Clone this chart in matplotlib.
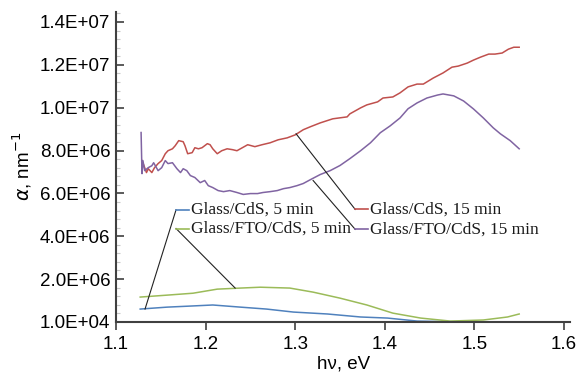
import matplotlib
matplotlib.use("Agg")
import matplotlib.pyplot as plt
from matplotlib.ticker import MultipleLocator

# ---------------- data ----------------
red_x = [1.129, 1.130, 1.134, 1.136, 1.140, 1.143, 1.147, 1.151, 1.155, 1.158, 1.163, 1.166,
         1.170, 1.175, 1.177, 1.180, 1.185, 1.188, 1.192, 1.196, 1.202, 1.205, 1.208, 1.213,
         1.218, 1.224, 1.230, 1.235, 1.241, 1.247, 1.255, 1.263, 1.272, 1.281, 1.291, 1.300,
         1.309, 1.317, 1.328, 1.342, 1.358, 1.361, 1.373, 1.380, 1.392, 1.398, 1.409, 1.417,
         1.426, 1.436, 1.443, 1.454, 1.465, 1.475, 1.482, 1.492, 1.499, 1.507, 1.516, 1.523,
         1.531, 1.538, 1.544, 1.550]
red_y = [7.53, 7.43, 6.97, 7.15, 6.97, 7.20, 7.39, 7.53, 7.85, 7.99, 8.08, 8.22,
         8.46, 8.41, 8.22, 7.85, 7.90, 8.13, 8.08, 8.13, 8.32, 8.27, 8.08, 7.85,
         7.99, 8.08, 8.04, 7.99, 8.13, 8.27, 8.18, 8.27, 8.36, 8.50, 8.59, 8.73,
         8.97, 9.11, 9.29, 9.48, 9.57, 9.71, 9.99, 10.13, 10.27, 10.45, 10.50, 10.69,
         10.97, 11.10, 11.10, 11.38, 11.62, 11.89, 11.94, 12.08, 12.22, 12.36, 12.50, 12.50,
         12.55, 12.73, 12.82, 12.82]

purple_x = [1.128, 1.129, 1.130, 1.132, 1.136, 1.140, 1.142, 1.147, 1.151, 1.155, 1.158, 1.163,
            1.168, 1.172, 1.175, 1.179, 1.183, 1.188, 1.194, 1.199, 1.203, 1.208, 1.214, 1.220,
            1.227, 1.235, 1.242, 1.250, 1.258, 1.264, 1.272, 1.280, 1.287, 1.294, 1.302, 1.309,
            1.317, 1.328, 1.339, 1.350, 1.361, 1.373, 1.384, 1.395, 1.406, 1.417, 1.426, 1.436,
            1.447, 1.459, 1.465, 1.477, 1.488, 1.499, 1.510, 1.521, 1.529, 1.540, 1.550]
purple_y = [8.84, 6.92, 7.53, 7.06, 7.20, 7.29, 7.43, 7.06, 7.20, 7.53, 7.39, 7.43,
            7.15, 6.97, 7.15, 7.06, 6.83, 6.74, 6.50, 6.60, 6.36, 6.27, 6.13, 6.08,
            6.13, 6.04, 5.95, 5.99, 5.99, 6.04, 6.08, 6.13, 6.22, 6.27, 6.36, 6.46,
            6.64, 6.88, 7.06, 7.30, 7.62, 7.99, 8.36, 8.83, 9.15, 9.52, 9.95, 10.22,
            10.45, 10.59, 10.64, 10.55, 10.31, 9.94, 9.52, 9.06, 8.78, 8.46, 8.08]

green_x = [1.127, 1.157, 1.186, 1.213, 1.239, 1.261, 1.294, 1.320, 1.350, 1.380, 1.409,
           1.440, 1.473, 1.510, 1.537, 1.550]
green_y = [1.16, 1.25, 1.34, 1.53, 1.58, 1.62, 1.58, 1.39, 1.11, 0.79, 0.41,
           0.18, 0.04, 0.09, 0.23, 0.37]

blue_x = [1.127, 1.157, 1.183, 1.208, 1.239, 1.268, 1.298, 1.336, 1.373, 1.403, 1.436,
          1.473, 1.500]
blue_y = [0.60, 0.69, 0.74, 0.79, 0.69, 0.60, 0.46, 0.37, 0.23, 0.18, 0.04,
          0.01, 0.01]

labels = ["Glass/CdS, 5 min", "Glass/FTO/CdS, 5 min",
          "Glass/CdS, 15 min", "Glass/FTO/CdS, 15 min"]
colors = ["#4F81BD", "#9BBB59", "#C0504D", "#8064A2"]
# label anchor on curve and label start (x, y in 1e6 units)
anchors = [(1.1324, 0.60), (1.233, 1.58), (1.301, 8.78), (1.320, 6.60)]
label_pos = [(1.167, 5.23), (1.167, 4.36), (1.367, 5.25), (1.367, 4.32)]

yticks = [1e4, 2e6, 4e6, 6e6, 8e6, 1e7, 1.2e7, 1.4e7]
ytick_labels = ["1.0E+04", "2.0E+06", "4.0E+06", "6.0E+06", "8.0E+06",
                "1.0E+07", "1.2E+07", "1.4E+07"]
xticks = [1.1, 1.2, 1.3, 1.4, 1.5, 1.6]
xtick_labels = ["1.1", "1.2", "1.3", "1.4", "1.5", "1.6"]

# ---------------- plot ----------------
plt.rcParams['font.family'] = ['Liberation Sans', 'DejaVu Sans']
fig = plt.figure(figsize=(5.76, 3.76), dpi=100)
ax = fig.add_axes([0.2014, 0.1444, 0.7886, 0.824])

S = 1e6
series = [(blue_x, blue_y), (green_x, green_y), (red_x, red_y), (purple_x, purple_y)]
for (xs, ys), c in zip(series, colors):
    ax.plot(xs, [v * S for v in ys], color=c, lw=1.1, solid_joinstyle='round')

dx = 0.0145
for lab, c, (ax_, ay), (lx, ly) in zip(labels, colors, anchors, label_pos):
    ax.plot([ax_, lx], [ay * S, ly * S], color='#222222', lw=0.8)
    ax.plot([lx, lx + dx], [ly * S, ly * S], color=c, lw=1.2)
    ax.text(lx + dx + 0.002, ly * S, lab, fontsize=12.5, va='center', ha='left',
            family=['Liberation Serif', 'DejaVu Serif'], color='#1a1a1a')

ax.set_xlim(1.1, 1.607)
ax.set_ylim(1e4, 1.447e7)
ax.set_xticks(xticks)
ax.set_xticklabels(xtick_labels)
ax.set_yticks(yticks)
ax.set_yticklabels(ytick_labels)
ax.yaxis.set_minor_locator(MultipleLocator(4e5))

for s in ['top', 'right']:
    ax.spines[s].set_visible(False)
for s in ['left', 'bottom']:
    ax.spines[s].set_color('#404040')
    ax.spines[s].set_linewidth(1.5)

ax.tick_params(axis='y', which='major', direction='in', length=6, width=1.2,
               color='#404040', labelsize=13.5, pad=4)
ax.tick_params(axis='y', which='minor', direction='in', length=3, width=0.8,
               color='#c8c8c8')
ax.tick_params(axis='x', which='major', direction='out', length=6, width=1.2,
               color='#404040', labelsize=13.5, pad=4)

ax.set_xlabel("h\u03bd, eV", fontsize=13.5, labelpad=2)
ax.set_ylabel(r"$\alpha$, nm$^{-1}$", fontsize=13.5, labelpad=4)

fig.savefig("out.png", dpi=100)
